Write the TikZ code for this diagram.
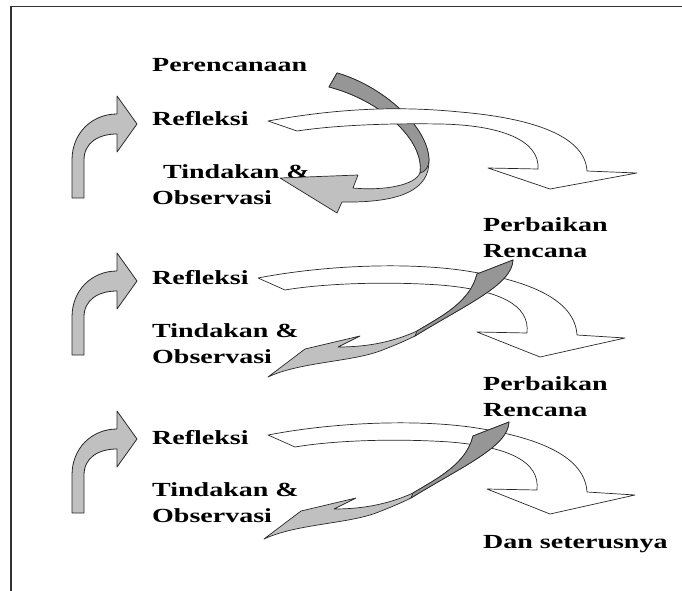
\documentclass[tikz,border=0pt]{standalone}
\usepackage{fontspec}
\setmainfont{Liberation Serif}[FakeStretch=1.4]
\usepackage{tikz}
\definecolor{ribdark}{RGB}{150,150,150}
\definecolor{riblight}{RGB}{192,192,192}
\definecolor{edge}{RGB}{40,40,40}

\begin{document}
\begin{tikzpicture}[
    x=1pt, y=-1pt,
    lbl/.style={anchor=base west, inner sep=0pt, align=left, font=\fontsize{20}{26}\selectfont\bfseries},
    turnarrow/.style={fill=riblight, draw=edge, line width=0.8pt, line join=round},
    flow/.style={fill=white, draw=edge, line width=0.7pt, line join=round},
    twist/.style={fill=riblight, draw=edge, line width=0.7pt, line join=round},
    twistdark/.style={fill=ribdark, draw=edge, line width=0.7pt, line join=round},
]
\useasboundingbox (0,0) rectangle (682,591);

% Frame
\draw[line width=1.3pt, black!80] (11,591) -- (11,6.5) -- (682,6.5);

% Labels (two-line labels sit on the baseline of their last line)
\node[lbl] (plan) at (152,72) {Perencanaan};
\node[lbl] (refl1) at (152,125) {Refleksi};
\node[lbl] (act1) at (152,204) {\hspace*{11pt}Tindakan \&\\Observasi};
\node[lbl] (fix1) at (483,257) {Perbaikan\\Rencana};
\node[lbl] (refl2) at (152,284) {Refleksi};
\node[lbl] (act2) at (152,363) {Tindakan \&\\Observasi};
\node[lbl] (fix2) at (483,416) {Perbaikan\\Rencana};
\node[lbl] (refl3) at (152,444) {Refleksi};
\node[lbl] (act3) at (152,522) {Tindakan \&\\Observasi};
\node[lbl] (etc) at (483,548) {Dan seterusnya};

% Bent arrows on the left
\draw[turnarrow] (72,198) -- (72,160) .. controls (72,133) and (92,114) .. (117,114) -- (117,96) -- (137,124)
    -- (117,152) -- (117,134) .. controls (98,134) and (84,143) .. (84,160) -- (84,198) -- cycle;
\begin{scope}[shift={(0,157)}]
\draw[turnarrow] (72,198) -- (72,160) .. controls (72,133) and (92,114) .. (117,114) -- (117,96) -- (137,124)
    -- (117,152) -- (117,134) .. controls (98,134) and (84,143) .. (84,160) -- (84,198) -- cycle;
\end{scope}
\begin{scope}[shift={(0,315)}]
\draw[turnarrow] (72,198) -- (72,160) .. controls (72,133) and (92,114) .. (117,114) -- (117,96) -- (137,124)
    -- (117,152) -- (117,134) .. controls (98,134) and (84,143) .. (84,160) -- (84,198) -- cycle;
\end{scope}

% First cycle: curled ribbon under the flat arrow
\draw[twist] (337,73) .. controls (380,85) and (428,125) .. (429,160) .. controls (430,190) and (400,203) .. (342,202)
    -- (337,213) -- (280,178) -- (358,175) -- (353,188)
    .. controls (385,191) and (415,185) .. (420,173) .. controls (425,140) and (380,100) .. (329,87) -- cycle;
\draw[twistdark] (337,73) .. controls (380,85) and (428,125) .. (429,160) .. controls (429,167) and (425,172) .. (420,173)
    .. controls (425,140) and (380,100) .. (329,87) -- cycle;
\draw[flow] (268,121) .. controls (340,108) and (400,106) .. (460,112) .. controls (530,118) and (585,135) .. (587,171)
    -- (637,173) -- (550,189) -- (488,168) -- (538,169)
    .. controls (540,140) and (500,125) .. (440,124) .. controls (380,123) and (330,126) .. (297,131) -- cycle;

% Second cycle
\draw[flow] (258,278) .. controls (320,266) and (400,262) .. (460,270) .. controls (530,280) and (575,300) .. (577,335)
    -- (625,338) -- (540,357) -- (477,332) -- (527,333)
    .. controls (530,305) and (500,290) .. (440,285) .. controls (380,281) and (320,284) .. (285,290) -- cycle;
\draw[twist] (268,377) .. controls (300,362) and (350,362) .. (380,351) .. controls (393,346) and (405,341) .. (415,336)
    .. controls (465,305) and (512,285) .. (513,260) -- (477,274)
    .. controls (470,302) and (442,316) .. (417,331) .. controls (395,341) and (370,347) .. (338,347)
    -- (360,336) -- (305,349) -- cycle;
\draw[twistdark] (415,336) .. controls (465,305) and (512,285) .. (513,260) -- (477,274)
    .. controls (470,302) and (442,316) .. (417,331) -- cycle;

% Third cycle
\begin{scope}[shift={(10,157)}]
\draw[flow] (258,278) .. controls (320,266) and (400,262) .. (460,270) .. controls (530,280) and (575,300) .. (577,335)
    -- (625,338) -- (540,357) -- (477,332) -- (527,333)
    .. controls (530,305) and (500,290) .. (440,285) .. controls (380,281) and (320,284) .. (285,290) -- cycle;
\end{scope}
\begin{scope}[shift={(-4,162)}]
\draw[twist] (268,377) .. controls (300,362) and (350,362) .. (380,351) .. controls (393,346) and (405,341) .. (415,336)
    .. controls (465,305) and (512,285) .. (513,260) -- (477,274)
    .. controls (470,302) and (442,316) .. (417,331) .. controls (395,341) and (370,347) .. (338,347)
    -- (360,336) -- (305,349) -- cycle;
\draw[twistdark] (415,336) .. controls (465,305) and (512,285) .. (513,260) -- (477,274)
    .. controls (470,302) and (442,316) .. (417,331) -- cycle;
\end{scope}

\end{tikzpicture}
\end{document}
